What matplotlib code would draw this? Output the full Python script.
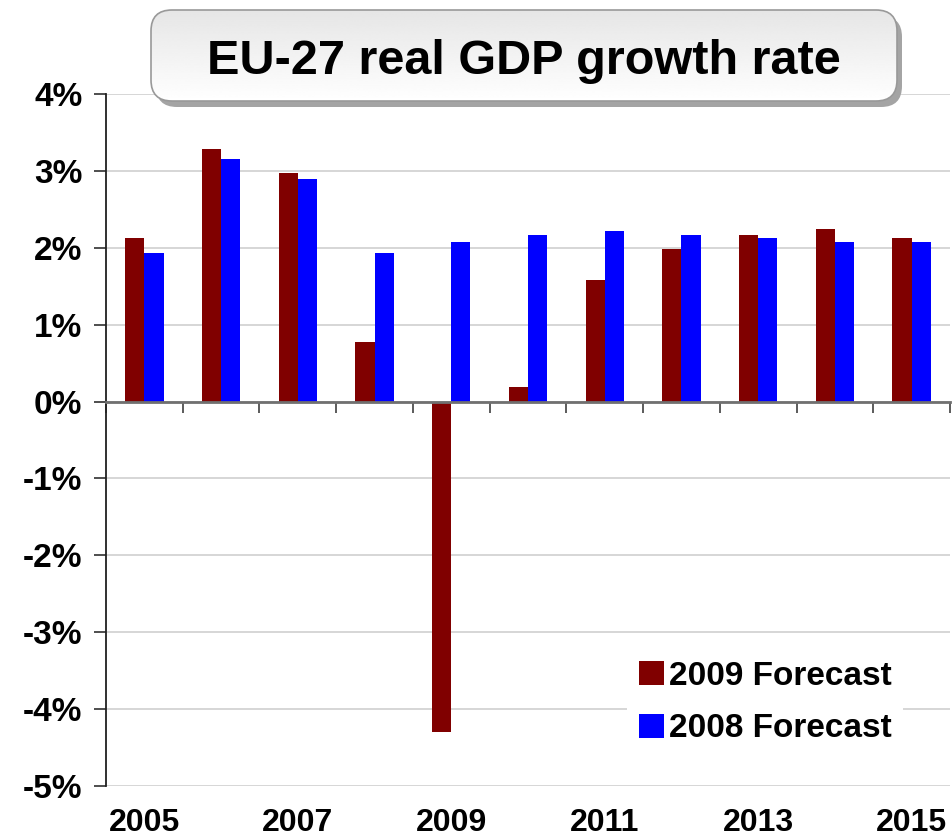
import matplotlib
matplotlib.use("Agg")
import matplotlib.pyplot as plt
import numpy as np
from matplotlib.patches import FancyBboxPatch
from matplotlib.ticker import FixedLocator, FuncFormatter, NullFormatter

years = [2005, 2006, 2007, 2008, 2009, 2010, 2011, 2012, 2013, 2014, 2015]
forecast_2009 = [2.13, 3.28, 2.97, 0.78, -4.3, 0.19, 1.58, 1.98, 2.17, 2.24, 2.13]
forecast_2008 = [1.93, 3.16, 2.90, 1.93, 2.07, 2.17, 2.22, 2.17, 2.13, 2.07, 2.07]
series_labels = ["2009 Forecast", "2008 Forecast"]
title = "EU-27 real GDP growth rate"

W, H = 952, 838
fig = plt.figure(figsize=(W / 100, H / 100), dpi=100)
font = ["Liberation Sans", "DejaVu Sans"]

def fx(px):
    return px / W

def fy(py):
    return 1 - py / H

ax = fig.add_axes([fx(106), fy(786), fx(950) - fx(106), fy(94) - fy(786)])

x = np.arange(len(years))
bw = 0.25
ax.bar(x - bw / 2, forecast_2009, width=bw, color="#800000", label=series_labels[0], zorder=3)
ax.bar(x + bw / 2, forecast_2008, width=bw, color="#0000FF", label=series_labels[1], zorder=3)

ax.set_xlim(-0.5, len(years) - 0.5)
ax.set_ylim(-5, 4)

ax.set_yticks(np.arange(-5, 5, 1))
ax.yaxis.set_major_formatter(FuncFormatter(lambda v, p: f"{int(round(v))}%"))
ax.yaxis.grid(True, color="#d0d0d0", linewidth=1.2, zorder=0)
for lab in ax.get_yticklabels():
    lab.set_fontfamily(font)
    lab.set_fontsize(24)
    lab.set_fontweight("bold")
ax.tick_params(axis="y", direction="out", length=9, width=1.2, color="#303030", pad=8)

# zero line with category-boundary tick marks
ax.xaxis.set_major_locator(FixedLocator(np.arange(-0.5, len(years), 1)))
ax.xaxis.set_major_formatter(NullFormatter())
ax.tick_params(axis="x", which="major", direction="out", length=8, width=1.2, color="#404040")

for s in ["top", "right"]:
    ax.spines[s].set_visible(False)
ax.spines["left"].set_color("#202020")
ax.spines["left"].set_linewidth(1.3)
ax.spines["bottom"].set_position(("data", 0))
ax.spines["bottom"].set_color("#707070")
ax.spines["bottom"].set_linewidth(2)
ax.spines["bottom"].set_zorder(4)

# year labels at the bottom
sec = ax.secondary_xaxis(0.0)
sec.spines["bottom"].set_visible(False)
sec.set_xticks(x[::2])
sec.set_xticklabels([str(y) for y in years[::2]])
sec.tick_params(axis="x", length=0, pad=16)
for lab in sec.get_xticklabels():
    lab.set_fontfamily(font)
    lab.set_fontsize(23)
    lab.set_fontweight("bold")

leg = ax.legend(loc="lower right", bbox_to_anchor=(fx(903), fy(756)), bbox_transform=fig.transFigure,
                frameon=True, fancybox=False, edgecolor="none", facecolor="white", framealpha=1,
                prop={"family": font, "size": 24, "weight": "bold"},
                handlelength=0.75, handleheight=0.75, handletextpad=0.15, labelspacing=0.65,
                borderpad=0.35, borderaxespad=0)
leg.set_zorder(5)

# Title box with gradient and shadow
bx0, bx1, by0, by1 = 151, 897, 10, 101
shadow = FancyBboxPatch((fx(bx0) + fx(5), fy(by1) - 6 / H), fx(bx1) - fx(bx0), fy(by0) - fy(by1),
                        boxstyle="round,pad=0,rounding_size=0.022", transform=fig.transFigure,
                        facecolor="#a4a4a4", edgecolor="none", zorder=10, mutation_aspect=W / H)
fig.add_artist(shadow)
box = FancyBboxPatch((fx(bx0), fy(by1)), fx(bx1) - fx(bx0), fy(by0) - fy(by1),
                     boxstyle="round,pad=0,rounding_size=0.022", transform=fig.transFigure,
                     facecolor="none", edgecolor="#999999", linewidth=1.2, zorder=12, mutation_aspect=W / H)
fig.add_artist(box)
gax = fig.add_axes([0, 0, 1, 1], zorder=11)
gax.set_axis_off()
gax.set_xlim(0, 1)
gax.set_ylim(0, 1)
grad = np.linspace(0.90, 1.0, 256).reshape(-1, 1)
grad = np.tile(grad, (1, 2))
im = gax.imshow(grad, extent=[fx(bx0), fx(bx1), fy(by1), fy(by0)], cmap="gray", vmin=0, vmax=1,
                aspect="auto", origin="upper", zorder=1)
clip = FancyBboxPatch((fx(bx0), fy(by1)), fx(bx1) - fx(bx0), fy(by0) - fy(by1),
                      boxstyle="round,pad=0,rounding_size=0.022", transform=fig.transFigure,
                      facecolor="none", edgecolor="none", mutation_aspect=W / H)
im.set_clip_path(clip)
gax.patch.set_visible(False)
fig.text(fx(524), fy(61), title, ha="center", va="center", fontsize=35,
         fontweight="bold", family=font, zorder=20)

fig.savefig("out.png", dpi=100)
